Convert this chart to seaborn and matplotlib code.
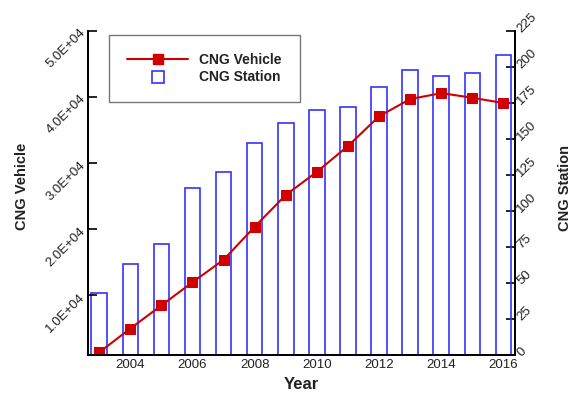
import matplotlib
matplotlib.use("Agg")
import matplotlib.pyplot as plt
from matplotlib.lines import Line2D
import seaborn as sns
import pandas as pd

# ---------------- Data ----------------
years = [2003, 2004, 2005, 2006, 2007, 2008, 2009, 2010, 2011, 2012, 2013, 2014, 2015, 2016]
vehicles = [1400, 5000, 8500, 12000, 15400, 20400, 25200, 28700, 32600, 37100, 39700, 40600, 39900, 39100]
stations = [43, 63, 77, 116, 127, 147, 161, 170, 172, 186, 198, 194, 196, 208]

vehicle_ticks = [10000, 20000, 30000, 40000, 50000]
station_ticks = [0, 25, 50, 75, 100, 125, 150, 175, 200, 225]
year_ticks = [2004, 2006, 2008, 2010, 2012, 2014, 2016]

df = pd.DataFrame({"year": years, "vehicle": vehicles, "station": stations})

# ---------------- Style ----------------
sns.set_theme(style="white")
plt.rcParams["font.family"] = ["Liberation Sans", "DejaVu Sans"]

RED = "#d00000"
BLUE = "#3333ff"
TEXT = "#222222"

fig = plt.figure(figsize=(5.77, 3.93), dpi=100)
ax = fig.add_axes([0.152, 0.0967, 0.7405, 0.8245])
ax2 = ax.twinx()

# bars on the right axis
sns.barplot(data=df, x="year", y="station", native_scale=True, width=0.5,
            fill=False, color=BLUE, linewidth=1.2, ax=ax2)

# line on the left axis
sns.lineplot(data=df, x="year", y="vehicle", color=RED, linewidth=1.5,
             marker="s", markersize=7, markeredgecolor=RED, ax=ax)

# keep the line above the bars
ax.set_zorder(ax2.get_zorder() + 1)
ax.patch.set_visible(False)

ax.set_xlim(2002.63, 2016.37)
ax.set_ylim(1000, 50000)
ax2.set_ylim(0, 225)

ax.set_xticks(year_ticks)
ax.set_xticklabels([str(y) for y in year_ticks], fontsize=9.5, color=TEXT)
ax.set_yticks(vehicle_ticks)
ax.set_yticklabels([f"{v:.1E}" for v in vehicle_ticks], fontsize=9.5, color=TEXT,
                   rotation=45, ha="right", va="center", rotation_mode="anchor")
ax2.set_yticks(station_ticks)
ax2.set_yticklabels([str(s) for s in station_ticks], fontsize=9.5, color=TEXT,
                    rotation=45, ha="left", va="center", rotation_mode="anchor")

ax.tick_params(axis="x", direction="in", length=4, width=1.2, pad=3, color="black")
ax.tick_params(axis="y", direction="in", length=6.5, width=1.2, pad=3, color="black")
ax2.tick_params(axis="y", direction="in", length=6.5, width=1.2, pad=3, color="black")

for a in (ax, ax2):
    a.spines["top"].set_visible(False)
    for s in ("left", "right", "bottom"):
        a.spines[s].set_color("black")
        a.spines[s].set_linewidth(1.3)
    a.grid(False)

ax.set_xlabel("Year", fontsize=12, fontweight="bold", color=TEXT)
ax.set_ylabel("CNG Vehicle", fontsize=10.5, fontweight="bold", color=TEXT)
ax2.set_ylabel("CNG Station", fontsize=10.5, fontweight="bold", color=TEXT)
ax.xaxis.set_label_coords(0.5, -0.068)
ax.yaxis.set_label_coords(-0.137, 0.52)
ax2.yaxis.set_label_coords(1.10, 0.515)

# ---------------- Legend ----------------
handles = [
    Line2D([], [], color=RED, linewidth=1.5, marker="s", markersize=7),
    Line2D([], [], color=BLUE, linestyle="none", marker="s", markersize=9,
           markerfacecolor="none", markeredgewidth=1.2),
]
leg = ax.legend(handles, ["CNG Vehicle", "CNG Station"], loc="upper left",
                bbox_to_anchor=(0.05, 0.988), borderaxespad=0, fancybox=False,
                frameon=True, handlelength=4.4, borderpad=1.3, labelspacing=0.25,
                handletextpad=0.8, prop={"weight": "bold", "size": 10})
leg.get_frame().set_edgecolor("#555555")
leg.get_frame().set_linewidth(1.0)
for t in leg.get_texts():
    t.set_color(TEXT)

fig.savefig("out.png", dpi=100)
